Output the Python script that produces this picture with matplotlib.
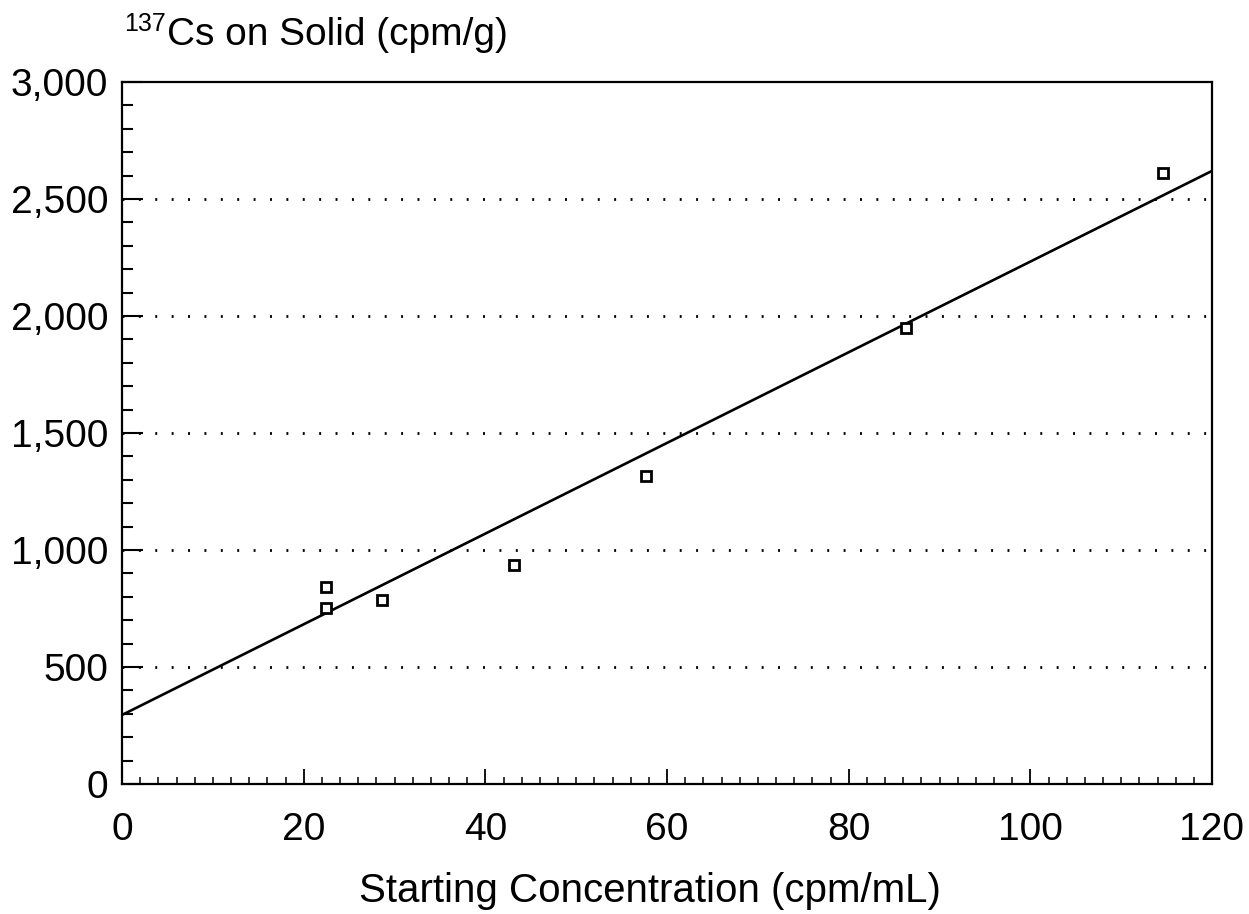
import matplotlib
matplotlib.use("Agg")
import matplotlib.pyplot as plt
import numpy as np
from matplotlib.ticker import MultipleLocator, FuncFormatter

conc = [22.5, 22.5, 28.6, 43.2, 57.7, 86.3, 114.6]
cs_solid = [840, 752, 786, 936, 1316, 1948, 2611]
fit_x = [0, 120]
fit_y = [295, 2620]

plt.rcParams['font.family'] = ['Liberation Sans', 'DejaVu Sans']
W, H = 1249, 914
fig = plt.figure(figsize=(W/100, H/100), dpi=100)
ax = fig.add_axes([122/W, 1-784/H, (1212-122)/W, (784-82)/H])

ax.plot(fit_x, fit_y, color='black', lw=1.9, zorder=3)
ax.plot(conc, cs_solid, linestyle='none', marker='s', markersize=7,
        markerfacecolor='white', markeredgecolor='black', markeredgewidth=2.0, zorder=4)

ax.set_xlim(0, 120)
ax.set_ylim(0, 3000)
ax.xaxis.set_major_locator(MultipleLocator(20))
ax.xaxis.set_minor_locator(MultipleLocator(2))
ax.yaxis.set_major_locator(MultipleLocator(500))
ax.yaxis.set_minor_locator(MultipleLocator(100))
ax.yaxis.set_major_formatter(FuncFormatter(lambda v, p: f"{int(v):,}"))
ax.tick_params(axis='both', which='both', direction='in', labelsize=28, color='black')
ax.tick_params(axis='x', which='major', length=11, width=1.3, pad=20)
ax.tick_params(axis='x', which='minor', length=5, width=1.1)
ax.tick_params(axis='y', which='major', length=15, width=1.5, pad=10)
ax.tick_params(axis='y', which='minor', length=8, width=1.5)
for s in ax.spines.values():
    s.set_linewidth(1.6)

for yv in range(500, 3000, 500):
    ax.axhline(yv, color='black', lw=2.0, linestyle=(0, (0.7, 5.2)), zorder=1)

fig.text(650/W, 1-902/H, 'Starting Concentration (cpm/mL)', fontsize=29,
         ha='center', va='baseline')
t1 = fig.text(124/W, 1-31/H, '137', fontsize=18, ha='left', va='baseline')
fig.canvas.draw()
bb = t1.get_window_extent()
fig.text((bb.x1 + 1)/W, 1-45/H, 'Cs on Solid (cpm/g)', fontsize=28,
         ha='left', va='baseline')

fig.savefig('out.png', dpi=100, facecolor='white')
